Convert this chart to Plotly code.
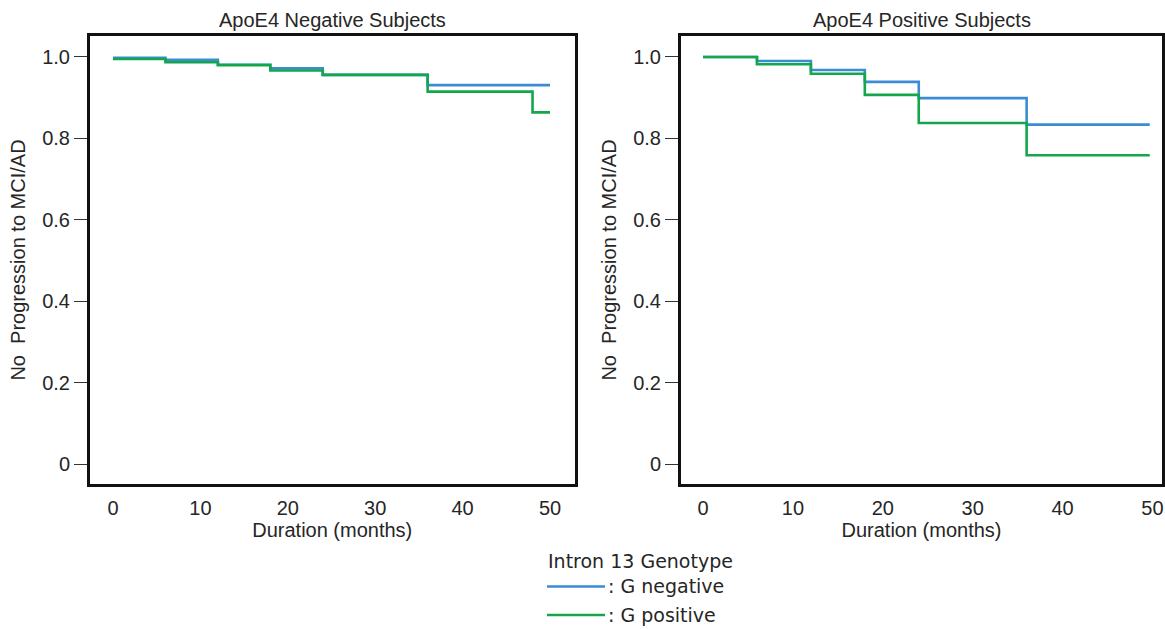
import plotly.graph_objects as go

# Kaplan-Meier style survival steps (months, proportion without progression)
neg_months = [0, 6, 12, 18, 24, 36, 50]
neg_gneg = [0.998, 0.993, 0.981, 0.972, 0.956, 0.931, 0.931]
neg_gpos_months = [0, 6, 12, 18, 24, 36, 48, 50]
neg_gpos = [0.995, 0.987, 0.980, 0.967, 0.956, 0.915, 0.864, 0.864]

pos_months = [0, 6, 12, 18, 24, 36, 49.7]
pos_gneg = [1.0, 0.990, 0.968, 0.939, 0.899, 0.834, 0.834]
pos_gpos = [1.0, 0.982, 0.959, 0.907, 0.838, 0.759, 0.759]

panel_titles = ["ApoE4 Negative Subjects", "ApoE4 Positive Subjects"]
series_names = [": G negative", ": G positive"]
legend_title = "Intron 13 Genotype"
x_ticks = [0, 10, 20, 30, 40, 50]
y_ticks = [0, 0.2, 0.4, 0.6, 0.8, 1.0]
y_ticktext = ["0", "0.2", "0.4", "0.6", "0.8", "1.0"]

BLUE = "#3a8dd5"
GREEN = "#14a64a"
TEXT = "#262626"
FONT = "Liberation Sans, Arial, sans-serif"
LEGEND_FONT = "DejaVu Sans, sans-serif"

W, H = 1165, 629
ML, MR, MT, MB = 90, 3, 36, 145
PW, PH = W - ML - MR, H - MT - MB


def px_x(p):
    return (p - ML) / PW


def px_y(p):
    return (H - MB - p) / PH


fig = go.Figure()

line_kw = dict(mode="lines", line=dict(shape="hv", width=2.6), showlegend=False)
fig.add_trace(go.Scatter(x=neg_months, y=neg_gneg, xaxis="x", yaxis="y",
                         name=series_names[0], line_color=BLUE, **line_kw))
fig.add_trace(go.Scatter(x=neg_gpos_months, y=neg_gpos, xaxis="x", yaxis="y",
                         name=series_names[1], line_color=GREEN, **line_kw))
fig.add_trace(go.Scatter(x=pos_months, y=pos_gneg, xaxis="x2", yaxis="y2",
                         name=series_names[0], line_color=BLUE, **line_kw))
fig.add_trace(go.Scatter(x=pos_months, y=pos_gpos, xaxis="x2", yaxis="y2",
                         name=series_names[1], line_color=GREEN, **line_kw))

frame = dict(showline=True, linewidth=3, linecolor="#111111", mirror=True,
             showgrid=False, zeroline=False, automargin=False)
xcommon = dict(frame, tickvals=x_ticks, ticks="", ticklabelstandoff=4,
               tickfont=dict(size=20, color=TEXT, family=FONT),
               title=dict(text="Duration (months)", standoff=0,
                          font=dict(size=20, color=TEXT, family=FONT)))
ycommon = dict(frame, tickvals=y_ticks, ticktext=y_ticktext, ticks="outside",
               ticklen=13, tickwidth=1.3, tickcolor="#333333",
               range=[-0.048, 1.0515],
               tickfont=dict(size=20, color=TEXT, family=FONT),
               title=dict(text="No  Progression to MCI/AD", standoff=12,
                          font=dict(size=20, color=TEXT, family=FONT)))

fig.update_layout(
    width=W, height=H,
    margin=dict(l=ML, r=MR, t=MT, b=MB),
    paper_bgcolor="white", plot_bgcolor="white",
    font=dict(family=FONT, color=TEXT),
    xaxis=dict(xcommon, domain=[0, px_x(574.5)], range=[-2.63, 52.8], anchor="y"),
    yaxis=dict(ycommon, domain=[0, 1], anchor="x"),
    xaxis2=dict(xcommon, domain=[px_x(681), 1], range=[-2.45, 51.06], anchor="y2"),
    yaxis2=dict(ycommon, domain=[0, 1], anchor="x2"),
)

# Panel titles
for title, dom in zip(panel_titles, [fig.layout.xaxis.domain, fig.layout.xaxis2.domain]):
    fig.add_annotation(text=title, xref="paper", yref="paper",
                       x=(dom[0] + dom[1]) / 2, y=px_y(20), xanchor="center",
                       yanchor="middle", showarrow=False,
                       font=dict(size=20, color=TEXT, family=FONT))

# Legend block below the panels
fig.add_annotation(text=legend_title, xref="paper", yref="paper",
                   x=px_x(546), y=px_y(561), xanchor="left", yanchor="middle",
                   showarrow=False, font=dict(size=19, color=TEXT, family=LEGEND_FONT))
for name, color, yp in zip(series_names, [BLUE, GREEN], [586.5, 615]):
    fig.add_shape(type="line", xref="paper", yref="paper",
                  x0=px_x(547), x1=px_x(605), y0=px_y(yp), y1=px_y(yp),
                  line=dict(color=color, width=2.6))
    fig.add_annotation(text=name, xref="paper", yref="paper",
                       x=px_x(606), y=px_y(yp - 0.5), xanchor="left", yanchor="middle",
                       showarrow=False, font=dict(size=19, color=TEXT, family=LEGEND_FONT))

fig.write_html("out.html")
